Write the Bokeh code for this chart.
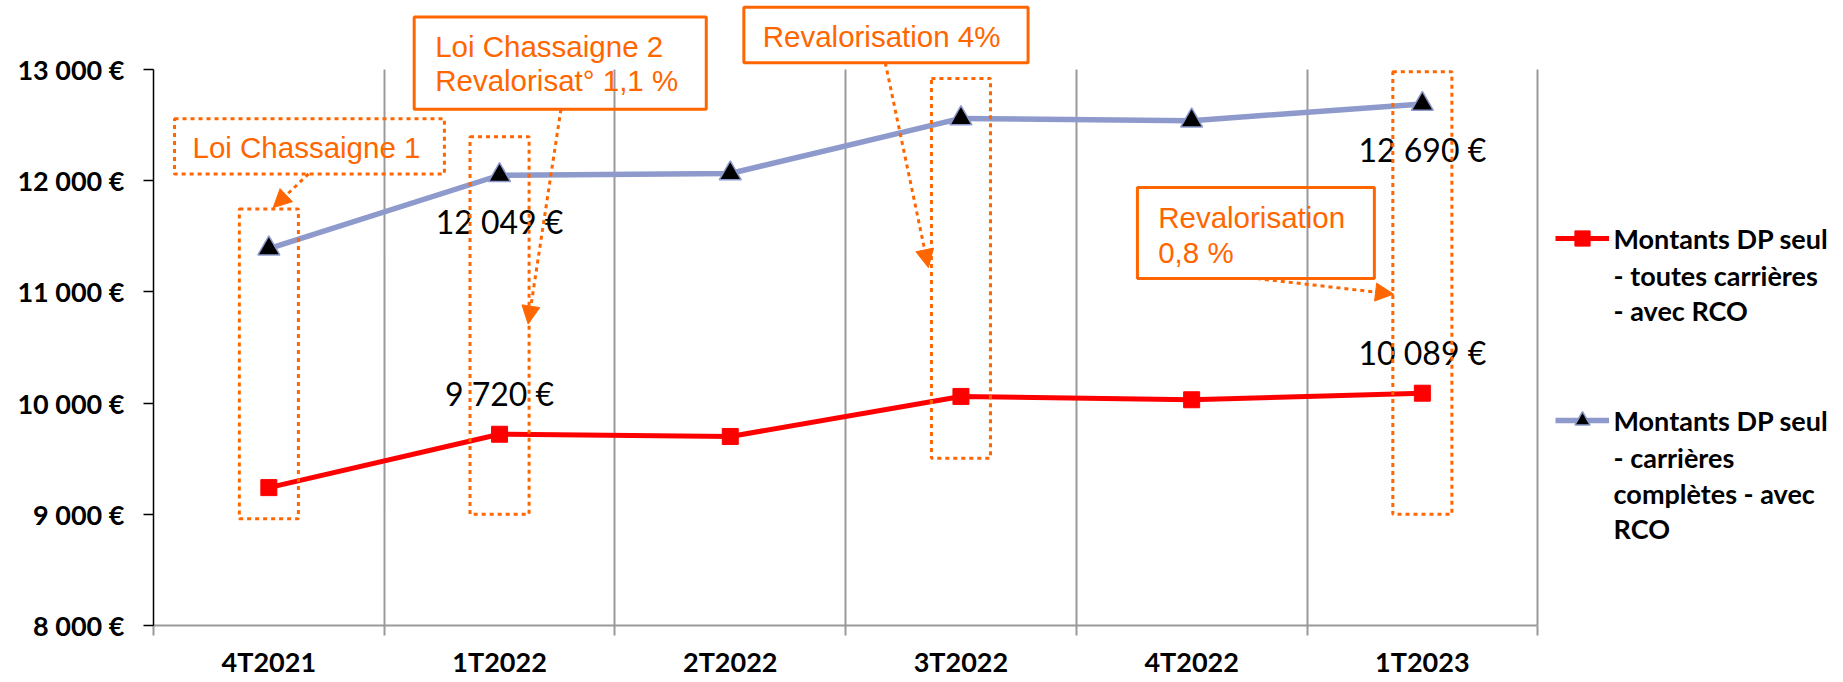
from bokeh.plotting import figure
from bokeh.models import (Range1d, FixedTicker, Label, Arrow, NormalHead,
                          BoxAnnotation, Legend, LegendItem, ColumnDataSource)
from bokeh.core.properties import value
from bokeh.embed import file_html
from bokeh.resources import INLINE

# ---------------- data ----------------
categories = ["4T2021", "1T2022", "2T2022", "3T2022", "4T2022", "1T2023"]
dp_toutes = [9240, 9720, 9700, 10060, 10030, 10089]
dp_completes = [11390, 12049, 12065, 12560, 12540, 12690]
y_ticks = [8000, 9000, 10000, 11000, 12000, 13000]
labelled_points = [1, 5]
legend_toutes = ["Montants DP seul", "- toutes carrières", "- avec RCO"]
legend_completes = ["Montants DP seul", "- carrières", "complètes - avec", "RCO"]


def euro(v):
    return f"{v:,}".replace(",", " ") + " €"


y_tick_labels = [euro(v) for v in y_ticks]

# ---------------- layout ----------------
W, H = 1843, 682
LEFT, BOTTOM = 153, 57
PX_PER_CAT = 230.7
PX_PER_EUR = 0.1112
Y0 = y_ticks[0]
x_end = (W - LEFT) / PX_PER_CAT
y_end = Y0 + (H - BOTTOM) / PX_PER_EUR

ORANGE = "#FF6600"
RED = "#FF0000"
BLUE = "#8E9ACC"
GRID = "#9A9A9A"
CAL = "Lato"
ARIAL = "Liberation Sans"

p = figure(width=W, height=H, output_backend="svg", toolbar_location=None,
           x_range=Range1d(0, x_end), y_range=Range1d(Y0, y_end),
           min_border_left=LEFT, min_border_right=0, min_border_top=0,
           min_border_bottom=BOTTOM)
p.outline_line_color = None
p.background_fill_color = "white"
p.border_fill_color = "white"

n = len(categories)
xs = [i + 0.5 for i in range(n)]

# y axis
yax = p.yaxis[0]
yax.ticker = FixedTicker(ticks=y_ticks)
yax.bounds = (y_ticks[0], y_ticks[-1])
yax.major_label_overrides = {t: l for t, l in zip(y_ticks, y_tick_labels)}
yax.major_label_text_font = CAL
yax.major_label_text_font_style = "bold"
yax.major_label_text_font_size = "27px"
yax.major_label_text_color = "black"
yax.major_label_standoff = 19
yax.axis_line_color = "black"
yax.axis_line_width = 1.5
yax.major_tick_line_color = "black"
yax.major_tick_line_width = 1.5
yax.major_tick_out = 10
yax.major_tick_in = 0
yax.minor_tick_line_color = None

# x axis
xax = p.xaxis[0]
xax.ticker = FixedTicker(ticks=xs, minor_ticks=list(range(n + 1)))
xax.bounds = (0, n)
xax.major_label_overrides = {x: c for x, c in zip(xs, categories)}
xax.major_label_text_font = CAL
xax.major_label_text_font_style = "bold"
xax.major_label_text_font_size = "27px"
xax.major_label_text_color = "black"
xax.major_label_standoff = 9
xax.axis_line_color = GRID
xax.axis_line_width = 2
xax.major_tick_line_color = None
xax.minor_tick_line_color = GRID
xax.minor_tick_line_width = 2
xax.minor_tick_out = 10
xax.minor_tick_in = 0

# grids
p.ygrid.grid_line_color = None
xg = p.xgrid[0]
xg.ticker = FixedTicker(ticks=list(range(1, n + 1)))
xg.grid_line_color = GRID
xg.grid_line_width = 2
if "cross_bounds" in xg.properties():
    xg.cross_bounds = (y_ticks[0], y_ticks[-1])
else:
    xg.grid_line_color = None
    p.segment(x0=list(range(1, n + 1)), x1=list(range(1, n + 1)),
              y0=[y_ticks[0]] * n, y1=[y_ticks[-1]] * n,
              line_color=GRID, line_width=2)

# ---------------- series ----------------
r1l = p.line(xs, dp_toutes, line_color=RED, line_width=5)
r1m = p.scatter(xs, dp_toutes, marker="square", size=16,
                fill_color=RED, line_color=RED)
r2l = p.line(xs, dp_completes, line_color=BLUE, line_width=5.5)
r2m = p.scatter(xs, dp_completes, marker="triangle", size=22,
                fill_color="black", line_color=BLUE, line_width=1.5)

# value labels
lab = ColumnDataSource(dict(
    x=[xs[i] for i in labelled_points] * 2,
    y=[dp_toutes[i] for i in labelled_points] + [dp_completes[i] for i in labelled_points],
    text=[euro(dp_toutes[i]) for i in labelled_points] + [euro(dp_completes[i]) for i in labelled_points],
    off=[-41] * len(labelled_points) + [46] * len(labelled_points),
))
p.text(x="x", y="y", text="text", y_offset="off", source=lab,
       text_font=value(CAL), text_font_size=value("32px"),
       text_color="black", text_align="center", text_baseline="middle")

# ---------------- annotations ----------------
DOT = "4 4"


def box(left, right, bottom, top, dash="solid"):
    p.add_layout(BoxAnnotation(left=left, right=right, bottom=bottom, top=top,
                               fill_alpha=0, line_color=ORANGE, line_alpha=1,
                               line_width=3, line_dash=dash))


def arrow(x0, y0, x1, y1):
    p.add_layout(Arrow(x_start=x0, y_start=y0, x_end=x1, y_end=y1,
                       line_color=ORANGE, line_width=3, line_dash=DOT,
                       end=NormalHead(size=18, fill_color=ORANGE,
                                      line_color=ORANGE, line_width=1)))


def note(x, y, text, align="left"):
    p.add_layout(Label(x=x, y=y, text=text, text_font=ARIAL,
                       text_font_size="29.5px", text_color=ORANGE,
                       text_align=align, text_baseline="middle"))


HALF = 0.128
# dotted frames around the quarters with a change
box(0.5 - HALF, 0.5 + HALF, 8960, 11745, DOT)
box(1.5 - HALF, 1.5 + HALF, 9000, 12395, DOT)
box(3.5 - HALF, 3.5 + HALF, 9505, 12920, DOT)
box(5.5 - HALF, 5.5 + HALF, 9000, 12980, DOT)

# Loi Chassaigne 1
box(0.091, 1.261, 12061, 12558, DOT)
note(0.663, 12300, "Loi Chassaigne 1", align="center")
arrow(0.672, 12061, 0.519, 11758)

# Loi Chassaigne 2
box(1.130, 2.396, 12642, 13472)
note(1.221, 13211, "Loi Chassaigne 2")
note(1.221, 12897, "Revalorisat° 1,1 %")
arrow(1.766, 12642, 1.624, 10711)

# Revalorisation 4%
box(2.559, 3.791, 13061, 13560)
note(3.156, 13301, "Revalorisation 4%", align="center")
arrow(3.172, 13061, 3.359, 11219)

# Revalorisation 0,8 %
box(4.265, 5.292, 11120, 11938)
note(4.355, 11668, "Revalorisation")
note(4.355, 11354, "0,8 %")
arrow(4.783, 11120, 5.375, 10980)

# ---------------- legend ----------------
legend = Legend(items=[LegendItem(label=legend_toutes[0], renderers=[r1l, r1m]),
                       LegendItem(label=legend_completes[0], renderers=[r2l, r2m])],
                location=(1401.5, 186), padding=0, margin=0, spacing=144,
                glyph_width=54, glyph_height=38, label_height=38,
                label_standoff=5, border_line_color=None,
                background_fill_alpha=0, label_text_font=CAL,
                label_text_font_style="bold", label_text_font_size="27px",
                label_text_color="black")
p.add_layout(legend)

LEG_X = 6.329
for txt, yv in zip(legend_toutes[1:], [11145, 10830]):
    p.add_layout(Label(x=LEG_X, y=yv, text=txt, text_font=CAL,
                       text_font_style="bold", text_font_size="27px",
                       text_color="black", text_baseline="middle"))
for txt, yv in zip(legend_completes[1:], [9512, 9183, 8869]):
    p.add_layout(Label(x=LEG_X, y=yv, text=txt, text_font=CAL,
                       text_font_style="bold", text_font_size="27px",
                       text_color="black", text_baseline="middle"))

open("out.html", "w").write(file_html(p, INLINE))
